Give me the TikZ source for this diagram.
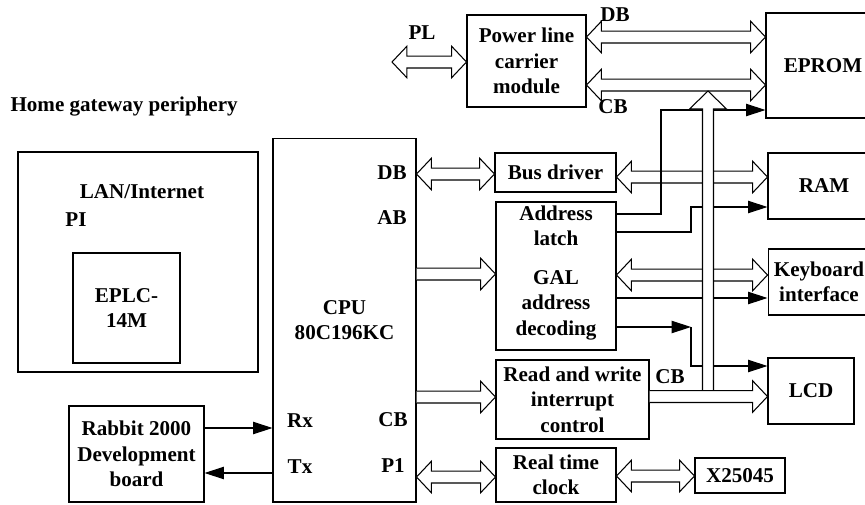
\documentclass[tikz,border=0pt]{standalone}
\usepackage{fontspec}
\setmainfont{Liberation Serif}
\usetikzlibrary{arrows.meta}
\usetikzlibrary{calc}
\tikzset{
    box/.style = {rectangle, draw=black, align=center, inner ysep=1pt},
    tag/.style = {align=center},
    sig/.style = {-{Triangle[length=11pt,width=7pt]}},
    busboth/.style = {fill=white, to path={let \p1=(\tikztostart), \p2=(\tikztotarget) in
        (\x1,\y1) -- (\x1+8.5pt,\y1+9pt) -- (\x1+8.5pt,\y1+3.4pt) -- (\x2-8.5pt,\y1+3.4pt) -- (\x2-8.5pt,\y1+9pt) -- (\x2,\y1)
        -- (\x2-8.5pt,\y1-9pt) -- (\x2-8.5pt,\y1-3.4pt) -- (\x1+8.5pt,\y1-3.4pt) -- (\x1+8.5pt,\y1-9pt) -- cycle}},
    busone/.style = {fill=white, to path={let \p1=(\tikztostart), \p2=(\tikztotarget) in
        (\x1,\y1+3.4pt) -- (\x2-8.5pt,\y1+3.4pt) -- (\x2-8.5pt,\y1+9pt) -- (\x2,\y1)
        -- (\x2-8.5pt,\y1-9pt) -- (\x2-8.5pt,\y1-3.4pt) -- (\x1,\y1-3.4pt)}},
}

\begin{document}
\begin{tikzpicture}[
  x=0.02cm, y=-0.02cm,
  line width=0.6pt,
  font=\bfseries\fontsize{12}{14.5}\selectfont]
  \clip (0,0) rectangle (865,504);

  % periphery
  \node[tag, anchor=west, inner sep=0pt] (home) at (10,107) {Home gateway periphery};
  \node[box, minimum width=4.8cm, minimum height=4.4cm] (lan) at (138,262) {};
  \node[tag] (lantxt) at (142,192) {LAN/Internet};
  \node[tag] (pi) at (76,220) {PI};
  \node[box, minimum width=2.14cm, minimum height=2.2cm] (eplc) at (126.5,308) {EPLC-\\14M};
  \node[box, minimum width=2.7cm, minimum height=1.92cm] (rabbit) at (136.5,454) {Rabbit 2000\\Development\\board};

  % cpu
  \node[box, minimum width=2.86cm, minimum height=7.28cm] (cpu) at (344.5,320) {CPU\\80C196KC};
  \node[tag] (dbcpu) at (392,173) {DB};
  \node[tag] (ab) at (392,218) {AB};
  \node[tag] (cbcpu) at (393,420) {CB};
  \node[tag] (p1) at (393,466) {P1};
  \node[tag] (rx) at (300,421) {Rx};
  \node[tag] (tx) at (300,467) {Tx};

  % middle column
  \node[box, minimum width=2.38cm, minimum height=1.84cm] (plc) at (526.5,61) {Power line\\carrier\\module};
  \node[box, minimum width=2.42cm, minimum height=0.78cm] (bd) at (555.5,172.5) {Bus driver};
  \node[box, minimum width=2.4cm, minimum height=2.96cm] (al) at (556,276) {};
  \node[tag] (latch) at (556,226) {Address\\latch};
  \node[tag] (gal) at (556,305) {GAL\\address\\decoding};
  \node[box, minimum width=3.06cm, minimum height=1.58cm] (rw) at (572.5,399.5) {Read and write\\interrupt\\control};
  \node[box, minimum width=2.4cm, minimum height=1.08cm] (rtc) at (556,475) {Real time\\clock};
  \node[box, minimum width=1.8cm, minimum height=0.7cm] (x25) at (740,475.5) {X25045};

  % right column
  \node[box, minimum width=2.28cm, minimum height=2.1cm] (eprom) at (823,65.5) {EPROM};
  \node[box, minimum width=2.24cm, minimum height=1.32cm] (ram) at (824,186) {RAM};
  \node[box, minimum width=2.02cm, minimum height=1.32cm] (kb) at (819,282) {Keyboard\\interface};
  \node[box, minimum width=1.72cm, minimum height=1.32cm] (lcd) at (811,391) {LCD};

  \node[tag] (pl) at (422,33) {PL};
  \node[tag] (dbtop) at (615,15) {DB};
  \node[tag] (cbtop) at (613,107) {CB};
  \node[tag] (cbrw) at (670,377) {CB};

  % hollow buses
  \coordinate (plend) at (392,62);
  \draw[busboth] (plend) to (plc.west);
  \draw[busboth] (plc.east |- 0,37) to (eprom.west);
  \draw[busboth] (plc.east |- 0,85) to (eprom.west);
  \draw[busboth] (cpu.east |- 0,174) to (bd.west);
  \draw[busboth] (bd.east |- 0,177) to (ram.west);
  \draw[busone] (cpu.east |- 0,274) to (al.west);
  \draw[busboth] (al.east |- 0,275) to (kb.west);
  \draw[busone] (cpu.east |- 0,397) to (rw.west);
  \draw[busboth] (cpu.east |- 0,477) to (rtc.west);
  \draw[busboth] (rtc.east |- 0,476) to (x25.west);

  % single lines
  \coordinate (galtip) at (691,327);
  \draw[sig] (al.east |- 0,214) -| (661,110) -- (eprom.west |- 0,110);
  \draw[sig] (al.east |- 0,232) -| (691,207) -- (ram.west |- 0,207);
  \draw[sig] (al.east |- 0,298) -- (kb.west |- 0,298);
  \draw[sig] (al.east |- 0,327) -- (galtip);
  \draw[sig] (galtip) |- (lcd.west |- 0,366);
  \draw[sig] (rabbit.east |- 0,428) -- (cpu.west |- 0,428);
  \draw[sig] (cpu.west |- 0,473) -- (rabbit.east |- 0,473);

  % vertical bus
  \coordinate (bustop) at (708,91);
  \coordinate (busfoot) at (708,390.5);
  \draw[fill=white] (busfoot) ++(-5.5,0) -- ++(0,-281.5) -- ++(-13,0) -- (bustop)
    -- ++(18.5,18) -- ++(-13,0) -- ++(0,281.5);
  \draw[busone] (rw.east |- 0,396.5) to (lcd.west);

 \end{tikzpicture}
\end{document}
